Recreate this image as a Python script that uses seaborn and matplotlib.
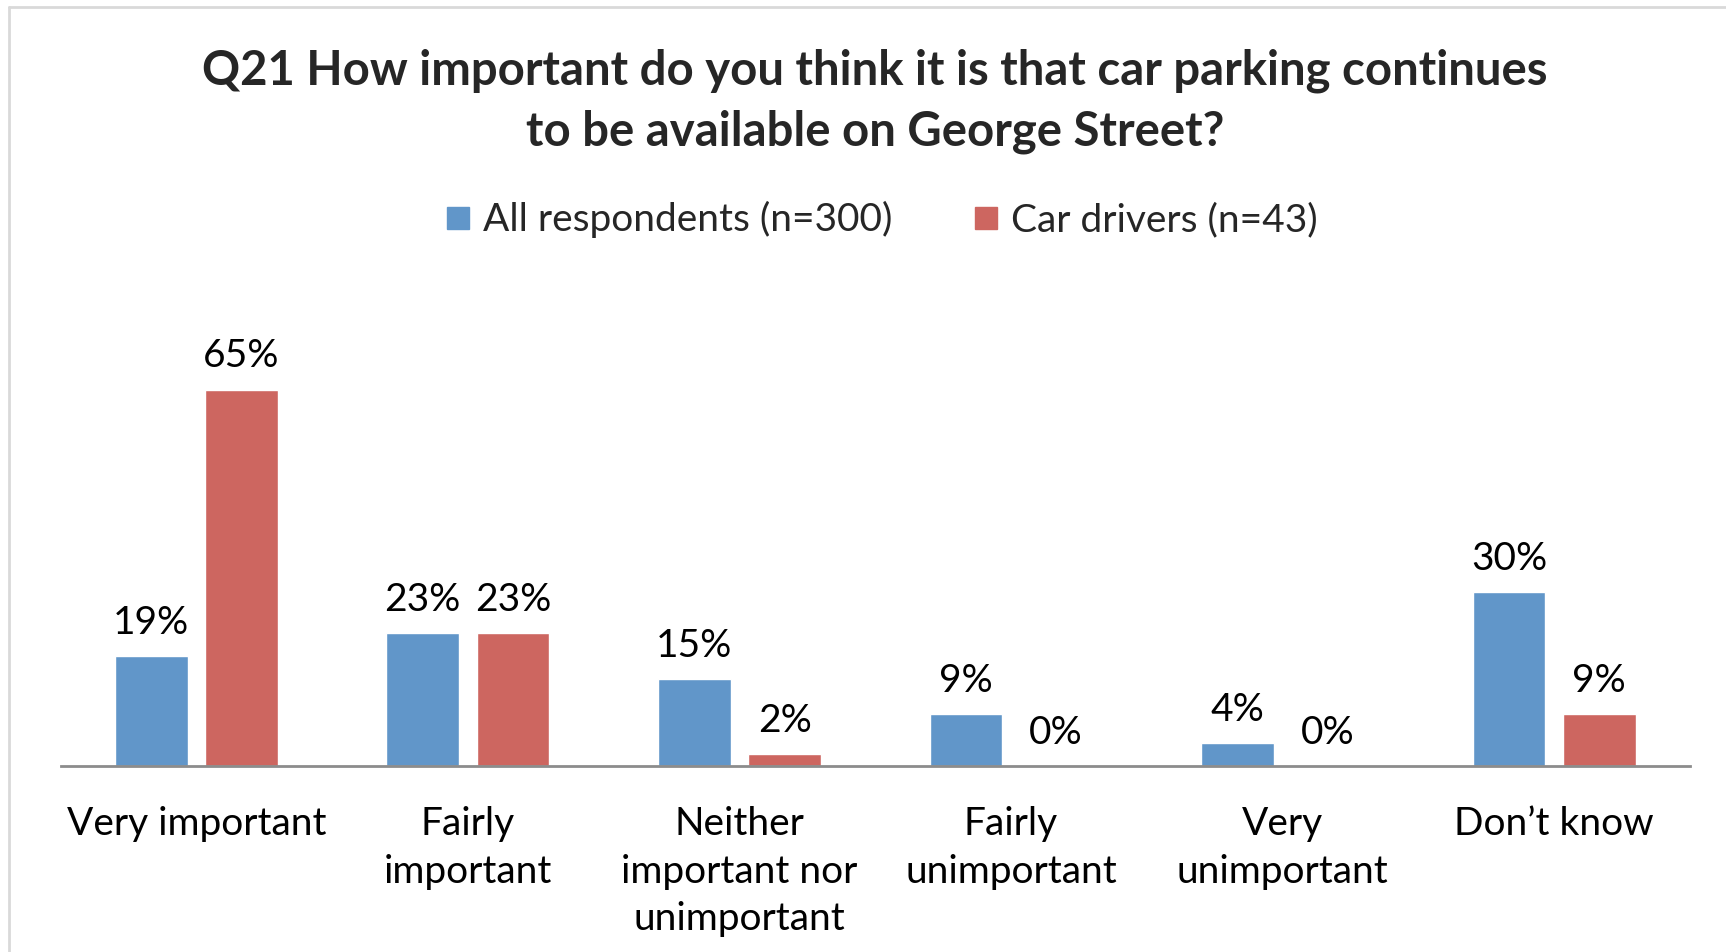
import pandas as pd
import matplotlib.pyplot as plt
import seaborn as sns
from matplotlib.lines import Line2D

# ------------------------------------------------------------
# Data
# ------------------------------------------------------------
categories = ['Very important', 'Fairly\nimportant', 'Neither\nimportant nor\nunimportant',
              'Fairly\nunimportant', 'Very\nunimportant', 'Don\u2019t know']
series = ['All respondents (n=300)', 'Car drivers (n=43)']
all_resp = [19, 23, 15, 9, 4, 30]
car_drivers = [65, 23, 2, 0, 0, 9]

title = ('Q21 How important do you think it is that car parking continues\n'
         'to be available on George Street?')

colors = ['#6196C9', '#CD6660']

df = pd.DataFrame({
    'category': categories * 2,
    'group': [series[0]] * len(categories) + [series[1]] * len(categories),
    'value': all_resp + car_drivers,
})

# ------------------------------------------------------------
# Plot
# ------------------------------------------------------------
sns.set_theme(style='white')
plt.rcParams['font.family'] = ['Lato', 'DejaVu Sans']

fig = plt.figure(figsize=(17.26, 9.52), dpi=100)
ax = fig.add_axes([0.0351, 0.1954, 0.9440, 0.4866])

sns.barplot(data=df, x='category', y='value', hue='group', palette=colors,
            width=0.665, gap=0.195, saturation=1, ax=ax, legend=False)

for cont in ax.containers:
    ax.bar_label(cont, labels=[f'{v:.0f}%' for v in cont.datavalues],
                 padding=11, fontsize=28, color='black')

ax.set_ylim(0, 80)
ax.set_xlim(-0.5, 5.5)
ax.set_xlabel('')
ax.set_ylabel('')
ax.set_yticks([])
ax.tick_params(axis='x', length=0, pad=29, labelsize=28, colors='black')
for lab in ax.get_xticklabels():
    lab.set_linespacing(1.4)
    lab.set_verticalalignment('top')
for side in ['top', 'left', 'right']:
    ax.spines[side].set_visible(False)
ax.spines['bottom'].set_color('#8C8C8C')
ax.spines['bottom'].set_linewidth(2)

# title
fig.text(0.507, 0.894, title, ha='center', va='center', fontsize=34,
         fontweight='bold', linespacing=1.45)

# legend
handles = [Line2D([0], [0], marker='s', linestyle='', markersize=16,
                  markerfacecolor=c, markeredgecolor=c) for c in colors]
fig.legend(handles, series, loc='center', bbox_to_anchor=(0.51, 0.769), ncol=2,
           frameon=False, fontsize=28, handletextpad=0.25, columnspacing=2.0,
           handlelength=0.8)

# outer frame (top and left edges visible)
fig.add_artist(Line2D([0.0052, 0.0052], [0, 0.9926], color='#D9D9D9', lw=2,
                      transform=fig.transFigure))
fig.add_artist(Line2D([0.0052, 1.0], [0.9926, 0.9926], color='#D9D9D9', lw=2,
                      transform=fig.transFigure))

plt.savefig('out.png', dpi=100)
